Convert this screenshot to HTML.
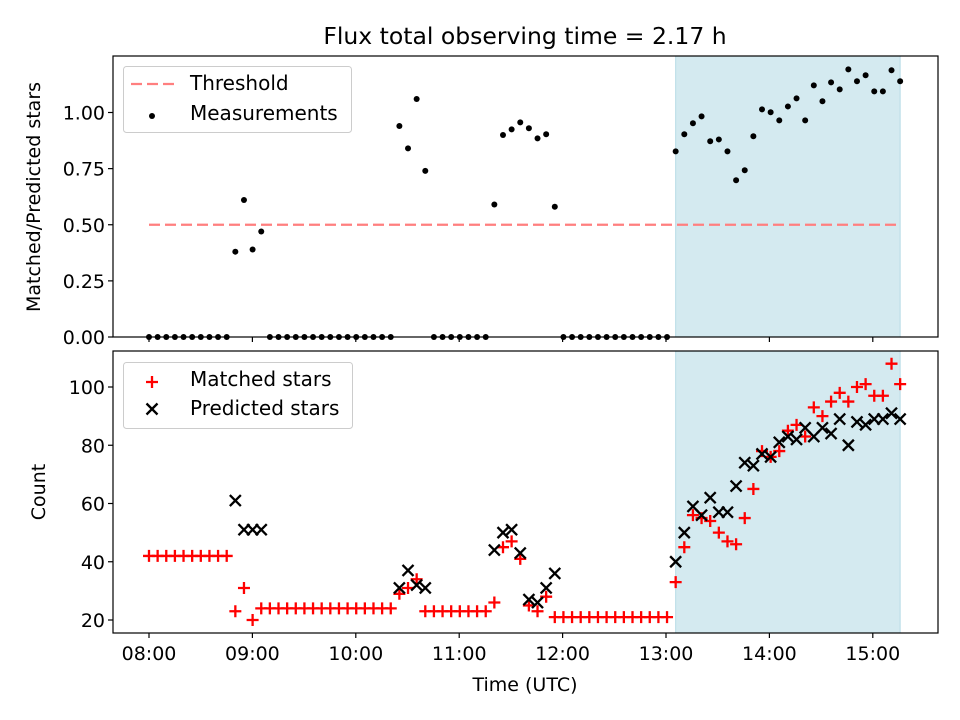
<!DOCTYPE html>
<html><head><meta charset="utf-8"><style>
html,body{margin:0;padding:0;background:#fff;}
svg{display:block;font-family:"DejaVu Sans","Liberation Sans",sans-serif;}
</style></head><body>
<svg id="fig" width="960" height="720" viewBox="0 0 960 720" xmlns="http://www.w3.org/2000/svg">
<rect width="960" height="720" fill="#fff"/>
<text x="525" y="44" font-size="23.5" text-anchor="middle" fill="#000">Flux total observing time = 2.17 h</text>
<g id="topPanel"></g>
<g id="botPanel"></g>
</svg>
<script>
const NS="http://www.w3.org/2000/svg";
const stepMin=5.01;
const ratio=[0,0,0,0,0,0,0,0,0,0,0.38,0.61,0.39,0.47,0,0,0,0,0,0,0,0,0,0,0,0,0,0,0,0.94,0.84,1.06,0.74,0,0,0,0,0,0,0,0.59,0.90,0.925,0.956,0.93,0.885,0.903,0.58,0,0,0,0,0,0,0,0,0,0,0,0,0,0.827,0.903,0.952,0.983,0.872,0.88,0.827,0.698,0.743,0.894,1.014,1.001,0.965,1.027,1.063,0.965,1.121,1.05,1.134,1.103,1.192,1.139,1.166,1.094,1.094,1.188,1.139];
const matched=[42,42,42,42,42,42,42,42,42,42,23,31,20,24,24,24,24,24,24,24,24,24,24,24,24,24,24,24,24,29,31,34,23,23,23,23,23,23,23,23,26,45,47,41,25,23,28,21,21,21,21,21,21,21,21,21,21,21,21,21,21,33,45,56,55,54,50,47,46,55,65,78,76,78,85,87,83,93,90,95,98,95,100,101,97,97,108,101];
const predicted=[null,null,null,null,null,null,null,null,null,null,61,51,51,51,null,null,null,null,null,null,null,null,null,null,null,null,null,null,null,31,37,32,31,null,null,null,null,null,null,null,44,50,51,43,27,26,31,36,null,null,null,null,null,null,null,null,null,null,null,null,null,40,50,59,56,62,57,57,66,74,73,77,76,81,83,82,86,83,86,84,89,80,88,87,89,89,91,89];
const xTickLabels=["08:00","09:00","10:00","11:00","12:00","13:00","14:00","15:00"];
const topTicks=[0,0.25,0.5,0.75,1.0];
const botTicks=[20,40,60,80,100];
const threshold=0.5;
const shadeStartIdx=61, shadeEndIdx=87;

const L=113,R=938,T1=56,B1=337,T2=351,B2=633,FS=19,LFS=20;
const xs=m=>149+m*103.4/60;
const xi=i=>xs(i*stepMin);
const y1=v=>337-v*224.5;
const y2=v=>620-(v-20)*2.9125;
function el(tag,attrs,parent,txt){const e=document.createElementNS(NS,tag);for(const k in attrs)e.setAttribute(k,attrs[k]);if(txt!==undefined)e.textContent=txt;parent.appendChild(e);return e;}
const gTop=document.getElementById('topPanel'), gBot=document.getElementById('botPanel'), fig=document.getElementById('fig');

function panel(g,T,B,name){
  const sh=el('rect',{x:xi(shadeStartIdx),y:T,width:xi(shadeEndIdx)-xi(shadeStartIdx),height:B-T,fill:'#d4eaf0',stroke:'#b6dbe6','stroke-width':1},g);
  
  
}
panel(gTop,T1,B1,'top');
panel(gBot,T2,B2,'bottom');

const th=el('line',{x1:xi(0),x2:xi(87),y1:y1(threshold),y2:y1(threshold),stroke:'#ff7f7f','stroke-width':2.2,'stroke-dasharray':'11,5'},gTop);


ratio.forEach((v,i)=>{
  const c=el('circle',{cx:xi(i),cy:y1(v),r:3,fill:'#000'},gTop);
  
  
});
matched.forEach((v,i)=>{
  const x=xi(i),y=y2(v);
  const p=el('path',{d:`M${x-6},${y}H${x+6}M${x},${y-6}V${y+6}`,stroke:'#f00','stroke-width':2.3},gBot);
  
  
});
predicted.forEach((v,i)=>{
  if(v===null)return;
  const x=xi(i),y=y2(v),d=5.5;
  const p=el('path',{d:`M${x-d},${y-d}L${x+d},${y+d}M${x-d},${y+d}L${x+d},${y-d}`,stroke:'#000','stroke-width':2.3},gBot);
  
  
});

[[gTop,T1,B1,'top'],[gBot,T2,B2,'bottom']].forEach(([g,T,B,n])=>{
  const f=el('rect',{x:L,y:T,width:R-L,height:B-T,fill:'none',stroke:'#000','stroke-width':1.2},g);
  
  
  xTickLabels.forEach((lab,k)=>{
    const x=xs(k*60);
    el('line',{x1:x,x2:x,y1:B,y2:B+5,stroke:'#000','stroke-width':1.2},g);
    if(n==='bottom'){
      const t=el('text',{x:x,y:B+27,'font-size':FS,'text-anchor':'middle'},g,lab);
      
      
    }
  });
});
topTicks.forEach(v=>{
  const y=y1(v);
  el('line',{x1:L-5,x2:L,y1:y,y2:y,stroke:'#000','stroke-width':1.2},gTop);
  const t=el('text',{x:L-8,y:y+7,'font-size':FS,'text-anchor':'end'},gTop,v.toFixed(2));
  
  
});
botTicks.forEach(v=>{
  const y=y2(v);
  el('line',{x1:L-5,x2:L,y1:y,y2:y,stroke:'#000','stroke-width':1.2},gBot);
  const t=el('text',{x:L-8,y:y+7,'font-size':FS,'text-anchor':'end'},gBot,String(v));
  
  
});

let a=el('text',{x:40,y:197,'font-size':FS,'text-anchor':'middle',transform:'rotate(-90 40 197)'},fig,'Matched/Predicted stars');


a=el('text',{x:45,y:492,'font-size':FS,'text-anchor':'middle',transform:'rotate(-90 45 492)'},fig,'Count');


a=el('text',{x:525,y:691,'font-size':FS,'text-anchor':'middle'},fig,'Time (UTC)');



a=el('rect',{x:123.5,y:66.5,width:228,height:66,rx:3,fill:'#fff','fill-opacity':0.8,stroke:'#ccc'},fig);


el('line',{x1:131,x2:174,y1:84,y2:84,stroke:'#ff7f7f','stroke-width':2.2,'stroke-dasharray':'11,5'},fig);
el('circle',{cx:152,cy:116,r:3,fill:'#000'},fig);
a=el('text',{x:190,y:90,'font-size':LFS},fig,'Threshold');


a=el('text',{x:190,y:120,'font-size':LFS},fig,'Measurements');



a=el('rect',{x:123.5,y:362.5,width:229,height:66,rx:3,fill:'#fff','fill-opacity':0.8,stroke:'#ccc'},fig);


el('path',{d:'M146,382H158M152,376V388',stroke:'#f00','stroke-width':2.3},fig);
el('path',{d:'M146.5,403.5L157.5,414.5M146.5,414.5L157.5,403.5',stroke:'#000','stroke-width':2.3},fig);
a=el('text',{x:190,y:386,'font-size':LFS},fig,'Matched stars');


a=el('text',{x:190,y:415,'font-size':LFS},fig,'Predicted stars');


</script>
</body></html>
